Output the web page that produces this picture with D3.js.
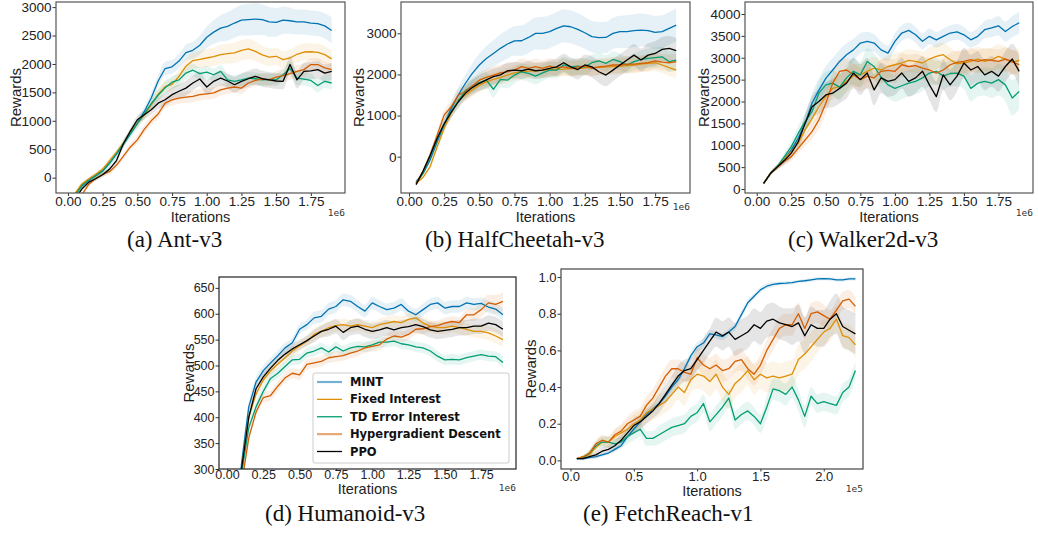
<!DOCTYPE html>
<html>
<head>
<meta charset="utf-8">
<script src="https://cdn.jsdelivr.net/npm/d3@7"></script>
<style>
  body { margin: 0; background: #fff; }
  svg { display: block; }
</style>
</head>
<body>
<svg id="fig" width="1038" height="541"></svg>
<script>
// methods and their colours (seaborn colorblind)
const methods = ['MINT', 'Fixed Interest', 'TD Error Interest', 'Hypergradient Descent', 'PPO'];
const colors = ['#0173B2', '#DE8F05', '#029E73', '#D55E00', '#000000'];

// iteration grids (x values of the logged points)
const itersMujoco = [0.05,0.10,0.15,0.20,0.25,0.30,0.35,0.40,0.45,0.50,0.55,0.60,0.65,0.70,0.75,0.80,0.85,0.90,0.95,1.00,
  1.05,1.10,1.15,1.20,1.25,1.30,1.35,1.40,1.45,1.50,1.55,1.60,1.65,1.70,1.75,1.80,1.85,1.90];
const itersFetch = [0.05,0.10,0.15,0.20,0.25,0.30,0.35,0.40,0.45,0.50,0.55,0.60,0.65,0.70,0.75,0.80,0.85,0.90,0.95,1.00,
  1.05,1.10,1.15,1.20,1.25,1.30,1.35,1.40,1.45,1.50,1.55,1.60,1.65,1.70,1.75,1.80,1.85,1.90,1.95,2.00,2.05,2.10,2.15,2.20,2.25];

// tick values
const ticksMujocoX = [0, 0.25, 0.5, 0.75, 1.0, 1.25, 1.5, 1.75];
const ticksFetchX = [0, 0.5, 1.0, 1.5, 2.0];
const ticksAntY = [0, 500, 1000, 1500, 2000, 2500, 3000];
const ticksCheetahY = [0, 1000, 2000, 3000];
const ticksWalkerY = [0, 500, 1000, 1500, 2000, 2500, 3000, 3500, 4000];
const ticksHumanoidY = [300, 350, 400, 450, 500, 550, 600, 650];
const ticksFetchY = [0, 0.2, 0.4, 0.6, 0.8, 1.0];

// ---- (a) Ant-v3 ----
const antMint = [-300,-130,-40,40,130,260,420,590,770,960,1160,1400,1700,1920,1950,2050,2200,2240,2330,2470,2560,2630,2660,2720,2770,2780,2790,2780,2740,2730,2770,2760,2740,2740,2720,2710,2670,2590];
const antFixed = [-280,-110,-20,60,150,300,450,610,790,960,1100,1280,1470,1600,1640,1780,1960,2060,2080,2105,2130,2165,2180,2195,2240,2265,2220,2160,2120,2135,2075,2105,2170,2210,2215,2205,2165,2090];
const antTd = [-320,-150,-50,30,110,250,420,600,780,950,1120,1300,1450,1580,1680,1720,1840,1890,1830,1855,1810,1870,1720,1695,1720,1750,1740,1720,1730,1720,1810,1920,1750,1735,1710,1620,1695,1665];
const antHyper = [-420,-300,-120,-10,60,105,220,380,540,665,850,1000,1120,1310,1370,1400,1415,1430,1460,1475,1490,1545,1575,1595,1575,1665,1710,1735,1720,1770,1795,1830,1870,1900,1990,1990,1930,1900];
const antPpo = [-380,-200,-80,-20,50,150,300,600,820,1018,1105,1195,1310,1370,1460,1520,1575,1665,1735,1595,1695,1750,1700,1635,1695,1740,1780,1740,1720,1700,1695,1990,1720,1870,1880,1900,1840,1870];
const antMintSd = [30,30,30,40,40,50,60,60,70,80,90,100,110,120,120,130,140,150,170,190,210,230,250,260,270,280,280,270,260,250,240,230,220,220,220,220,220,230];
const antFixedSd = [30,30,30,40,40,50,50,60,60,70,80,90,100,110,110,120,130,140,150,160,160,170,170,180,180,180,170,160,150,150,150,150,150,150,150,150,150,150];
const antTdSd = [30,30,30,40,40,50,50,60,60,70,80,90,100,110,110,110,110,110,110,110,110,110,110,110,110,110,110,110,110,110,110,120,120,120,120,120,120,120];
const antHyperSd = [30,30,30,40,40,50,50,60,60,70,80,80,90,90,100,100,100,100,100,100,100,100,100,100,100,100,100,100,100,110,110,110,110,110,110,110,110,110];
const antPpoSd = [30,30,30,40,40,50,50,60,60,70,80,90,100,110,120,120,130,130,130,130,130,130,130,140,140,140,140,140,140,140,140,150,150,150,150,150,150,150];

// ---- (b) HalfCheetah-v3 ----
const cheetahMint = [-608,-405,-80,365,770,1175,1500,1780,2025,2230,2390,2510,2635,2740,2815,2820,2900,3000,3000,3040,3120,3180,3160,3095,3015,2920,2895,2900,3000,3040,3040,3065,3080,3065,3025,3040,3120,3200];
const cheetahFixed = [-650,-500,-240,240,690,1055,1380,1500,1620,1740,1820,1880,1930,1985,2040,2065,2080,2090,2105,2120,2125,2130,2140,2145,2160,2170,2175,2185,2190,2200,2215,2230,2250,2270,2285,2230,2165,2105];
const cheetahTd = [-650,-400,0,420,800,1100,1350,1600,1720,1800,1860,1640,1880,1860,1985,2065,2025,1960,2040,2105,2105,2230,2185,2200,2185,2285,2330,2270,2365,2310,2230,2310,2365,2390,2410,2430,2310,2350];
const cheetahHyper = [-650,-350,50,525,1015,1215,1500,1580,1720,1860,1930,1985,2040,2065,2105,2190,2145,2190,2145,2200,2160,2185,2145,2185,2200,2145,2185,2200,2230,2230,2250,2250,2270,2285,2330,2300,2285,2310];
const cheetahPpo = [-680,-350,30,450,800,1080,1330,1540,1680,1785,1870,1945,1990,2090,2105,2090,2130,2090,2105,2145,2185,2285,2185,2120,2230,2185,2065,1985,2105,2230,2350,2470,2350,2470,2510,2610,2635,2580];
const cheetahMintSd = [40,50,70,100,130,160,190,220,250,280,300,320,340,350,360,370,380,390,400,400,400,400,400,400,390,380,380,380,380,390,400,400,400,400,400,400,400,400];
const cheetahFixedSd = [40,50,70,100,120,130,140,150,160,170,180,180,180,180,180,180,180,180,180,180,180,180,180,180,180,180,180,190,190,190,190,200,200,200,200,200,200,200];
const cheetahTdSd = [40,50,70,100,120,140,160,170,180,190,200,200,200,200,200,200,200,200,200,200,200,200,200,200,200,200,200,200,200,200,200,200,220,240,250,250,250,250];
const cheetahHyperSd = [40,50,70,100,120,140,160,170,180,190,200,200,200,200,200,200,200,200,200,200,200,200,200,200,200,200,200,200,200,200,200,200,200,200,200,200,200,200];
const cheetahPpoSd = [40,50,70,100,120,140,160,170,180,190,200,200,200,200,200,200,200,200,200,200,210,220,230,240,250,260,270,270,270,270,270,270,280,290,300,300,300,300];

// ---- (c) Walker2d-v3 ----
const walkerMint = [130,360,510,680,890,1160,1500,1960,2260,2530,2720,2915,3070,3180,3335,3375,3335,3180,3105,3375,3565,3625,3525,3375,3490,3410,3490,3565,3590,3525,3410,3490,3640,3680,3730,3600,3715,3800];
const walkerFixed = [130,360,510,700,855,1045,1350,1610,1880,2110,2300,2340,2460,2590,2610,2690,2765,2720,2800,2840,2880,2940,2915,2880,2970,3030,3070,2955,2865,2880,2915,2970,2915,2955,3030,2970,2895,2940];
const walkerTd = [130,360,510,740,970,1270,1540,1770,2190,2380,2420,2330,2540,2690,2610,2915,2800,2560,2380,2300,2360,2420,2460,2540,2650,2690,2580,2640,2650,2580,2300,2420,2460,2420,2500,2380,2080,2230];
const walkerHyper = [130,350,500,630,740,930,1120,1310,1580,1960,2420,2690,2720,2610,2500,2580,2540,2690,2710,2690,2840,2800,2820,2765,2720,2650,2720,2840,2895,2915,2955,2915,2955,2940,2915,2970,2915,2840];
const walkerPpo = [130,360,510,650,820,1080,1500,1880,2000,2150,2190,2300,2420,2650,2500,2650,2265,2540,2460,2500,2650,2460,2540,2690,2380,2110,2610,2380,2580,2880,2720,2800,2610,2690,2580,2800,2970,2690];
const walkerMintSd = [30,40,60,80,100,130,170,220,260,280,280,270,260,250,230,220,200,190,180,180,180,180,180,180,180,180,180,180,180,180,180,190,200,210,220,230,240,250];
const walkerFixedSd = [30,40,60,80,100,130,160,190,220,240,250,260,260,260,260,260,260,260,260,260,260,260,260,260,270,280,280,280,280,280,280,280,280,280,280,280,280,280];
const walkerTdSd = [30,40,60,90,130,170,210,250,280,300,300,300,300,300,300,300,300,300,300,300,300,300,300,300,300,300,300,300,300,300,300,300,320,340,360,380,400,400];
const walkerHyperSd = [30,40,60,80,100,120,140,160,200,240,260,270,270,270,270,270,270,270,270,270,270,270,270,270,270,270,270,270,270,270,270,270,270,270,270,270,270,270];
const walkerPpoSd = [30,40,60,90,130,170,210,250,280,300,320,340,350,350,350,350,350,350,350,350,350,350,350,350,350,350,350,350,350,350,350,350,350,350,350,350,350,350];

// ---- (d) Humanoid-v3 ----
const humanoidMint = [150,310,420,468,490,505,519,534,544,570,579,592,595,609,614,627,624,614,605,621,614,608,611,618,605,598,608,618,621,611,614,614,621,618,620,613,609,598];
const humanoidFixed = [150,300,400,445,472,490,503,515,528,538,547,560,566,573,577,579,576,579,576,573,579,582,585,583,589,592,582,576,573,573,576,573,570,566,566,563,557,550];
const humanoidTd = [150,290,380,420,450,475,485,498,511,512,524,528,534,526,536,528,534,537,536,540,545,545,547,542,540,536,534,528,518,511,512,511,515,518,521,518,517,506];
const humanoidHyper = [140,270,360,410,438,442,460,476,485,482,502,505,508,515,517,519,524,528,534,537,540,551,557,555,560,570,571,575,577,582,585,583,598,598,608,621,618,624];
const humanoidPpo = [150,300,400,455,478,495,510,522,532,540,548,557,566,570,576,564,573,576,570,566,569,573,569,573,575,579,575,569,566,568,570,573,573,576,576,582,579,570];
const humanoidMintSd = [10,10,10,10,10,10,10,10,10,10,10,12,12,12,12,12,12,12,12,12,12,12,12,12,12,12,12,12,12,12,12,12,12,12,12,12,12,12];
const humanoidFixedSd = [8,8,10,10,10,10,10,10,10,10,10,12,12,12,12,12,12,12,12,12,12,12,12,12,12,12,12,12,12,12,12,12,12,12,14,14,14,14];
const humanoidTdSd = [8,8,10,10,10,10,10,10,10,10,10,10,10,10,10,10,10,10,10,10,10,10,10,10,10,10,10,10,10,10,10,10,10,10,10,10,10,12];
const humanoidHyperSd = [8,8,10,10,10,10,10,10,10,10,10,10,10,10,10,10,10,10,10,10,10,10,10,10,10,10,10,10,10,10,10,10,12,12,14,16,18,18];
const humanoidPpoSd = [8,8,10,10,10,10,10,10,10,10,10,12,12,14,14,15,15,15,15,15,15,15,15,15,15,15,15,15,15,15,15,15,15,15,15,15,15,15];

// ---- (e) FetchReach-v1 ----
const fetchMint = [0.01,0.01,0.015,0.02,0.03,0.04,0.06,0.08,0.13,0.17,0.21,0.25,0.28,0.31,0.35,0.40,0.44,0.50,0.57,0.62,0.64,0.69,0.685,0.675,0.70,0.73,0.795,0.86,0.895,0.93,0.95,0.96,0.965,0.967,0.97,0.976,0.98,0.985,0.99,0.991,0.99,0.985,0.985,0.99,0.99];
const fetchFixed = [0.01,0.02,0.03,0.07,0.10,0.10,0.13,0.15,0.17,0.20,0.22,0.26,0.28,0.30,0.32,0.36,0.40,0.37,0.44,0.47,0.46,0.43,0.47,0.40,0.36,0.42,0.45,0.49,0.44,0.47,0.45,0.46,0.45,0.46,0.47,0.55,0.58,0.62,0.66,0.70,0.72,0.77,0.68,0.67,0.63];
const fetchTd = [0.01,0.015,0.04,0.08,0.10,0.10,0.09,0.10,0.13,0.15,0.17,0.12,0.12,0.14,0.16,0.18,0.19,0.20,0.24,0.26,0.31,0.21,0.25,0.29,0.34,0.22,0.25,0.27,0.24,0.20,0.29,0.39,0.38,0.36,0.40,0.33,0.24,0.35,0.31,0.32,0.31,0.30,0.37,0.40,0.49];
const fetchHyper = [0.01,0.02,0.04,0.09,0.11,0.10,0.14,0.16,0.20,0.22,0.24,0.30,0.34,0.40,0.46,0.50,0.50,0.48,0.47,0.56,0.52,0.50,0.52,0.49,0.50,0.54,0.55,0.50,0.47,0.52,0.60,0.66,0.72,0.74,0.74,0.80,0.72,0.80,0.81,0.79,0.77,0.82,0.87,0.88,0.84];
const fetchPpo = [0.01,0.01,0.02,0.03,0.05,0.06,0.08,0.11,0.15,0.19,0.21,0.24,0.27,0.31,0.36,0.41,0.46,0.49,0.50,0.55,0.60,0.65,0.70,0.68,0.70,0.66,0.68,0.70,0.74,0.72,0.76,0.77,0.75,0.74,0.73,0.75,0.68,0.74,0.72,0.72,0.77,0.80,0.73,0.71,0.69];
const fetchMintSd = [0.005,0.005,0.005,0.008,0.01,0.01,0.012,0.015,0.015,0.02,0.02,0.02,0.02,0.02,0.02,0.02,0.02,0.02,0.025,0.025,0.025,0.02,0.02,0.02,0.02,0.02,0.02,0.02,0.015,0.015,0.015,0.015,0.01,0.01,0.01,0.01,0.01,0.01,0.01,0.01,0.01,0.01,0.01,0.01,0.01];
const fetchFixedSd = [0.005,0.01,0.02,0.03,0.03,0.03,0.04,0.04,0.05,0.05,0.05,0.06,0.06,0.06,0.06,0.07,0.07,0.07,0.07,0.08,0.08,0.08,0.08,0.08,0.08,0.08,0.08,0.08,0.08,0.08,0.08,0.08,0.08,0.08,0.08,0.08,0.08,0.08,0.07,0.07,0.07,0.07,0.07,0.07,0.07];
const fetchTdSd = [0.005,0.01,0.02,0.02,0.03,0.03,0.03,0.03,0.04,0.04,0.04,0.04,0.04,0.05,0.05,0.05,0.05,0.05,0.05,0.05,0.05,0.05,0.05,0.05,0.05,0.05,0.05,0.05,0.05,0.05,0.06,0.06,0.06,0.06,0.06,0.06,0.06,0.05,0.05,0.05,0.05,0.05,0.05,0.05,0.05];
const fetchHyperSd = [0.005,0.01,0.02,0.02,0.03,0.03,0.03,0.04,0.04,0.05,0.05,0.05,0.05,0.05,0.05,0.05,0.05,0.05,0.05,0.06,0.06,0.06,0.06,0.06,0.06,0.06,0.06,0.06,0.06,0.06,0.06,0.06,0.06,0.06,0.06,0.06,0.06,0.06,0.06,0.06,0.05,0.05,0.05,0.05,0.05];
const fetchPpoSd = [0.005,0.01,0.01,0.02,0.02,0.02,0.03,0.03,0.03,0.04,0.04,0.04,0.04,0.05,0.05,0.05,0.06,0.06,0.06,0.06,0.07,0.07,0.08,0.08,0.08,0.09,0.09,0.09,0.09,0.09,0.09,0.09,0.09,0.09,0.10,0.10,0.10,0.10,0.10,0.10,0.10,0.11,0.11,0.11,0.11];

// panel layout: box = [left, top, right, bottom] of the axes frame
const panels = [
  { caption: '(a) Ant-v3', capX: 127, capY: 247, box: [56, 2, 345, 193],
    xDom: [-0.086, 1.996], yDom: [-270, 3090], xTicks: ticksMujocoX, yTicks: ticksAntY,
    xFmt: '.2f', yFmt: 'd', offsetText: '1e6', offY: 216, yLabX: 15, xLabY: 222, xTickY: 3, tickFont: 13.5,
    frame: '#555', iters: itersMujoco,
    means: [antMint, antFixed, antTd, antHyper, antPpo],
    sds: [antMintSd, antFixedSd, antTdSd, antHyperSd, antPpoSd] },
  { caption: '(b) HalfCheetah-v3', capX: 425, capY: 247, box: [401, 2, 690, 193],
    xDom: [-0.057, 1.998], yDom: [-883, 3762], xTicks: ticksMujocoX, yTicks: ticksCheetahY,
    xFmt: '.2f', yFmt: 'd', offsetText: '1e6', offY: 210, yLabX: 358, xLabY: 222, xTickY: 3.5, tickFont: 13.5,
    frame: '#555', iters: itersMujoco,
    means: [cheetahMint, cheetahFixed, cheetahTd, cheetahHyper, cheetahPpo],
    sds: [cheetahMintSd, cheetahFixedSd, cheetahTdSd, cheetahHyperSd, cheetahPpoSd] },
  { caption: '(c) Walker2d-v3', capX: 788, capY: 247, box: [745, 2, 1033, 193],
    xDom: [-0.085, 2.0], yDom: [-91, 4274], xTicks: ticksMujocoX, yTicks: ticksWalkerY,
    xFmt: '.2f', yFmt: 'd', offsetText: '1e6', offY: 216, yLabX: 703, xLabY: 222, xTickY: 3, tickFont: 13.5,
    frame: '#555', iters: itersMujoco,
    means: [walkerMint, walkerFixed, walkerTd, walkerHyper, walkerPpo],
    sds: [walkerMintSd, walkerFixedSd, walkerTdSd, walkerHyperSd, walkerPpoSd] },
  { caption: '(d) Humanoid-v3', capX: 265, capY: 521, box: [219, 277, 516, 469],
    xDom: [-0.055, 1.99], yDom: [300, 671], xTicks: ticksMujocoX, yTicks: ticksHumanoidY,
    xFmt: '.2f', yFmt: 'd', offsetText: '1e6', offY: 491, yLabX: 188, xLabY: 494, xTickY: 1.5, tickFont: 12.5,
    frame: '#222', iters: itersMujoco, legend: true,
    means: [humanoidMint, humanoidFixed, humanoidTd, humanoidHyper, humanoidPpo],
    sds: [humanoidMintSd, humanoidFixedSd, humanoidTdSd, humanoidHyperSd, humanoidPpoSd] },
  { caption: '(e) FetchReach-v1', capX: 583, capY: 521, box: [561, 269, 863, 469],
    xDom: [-0.075, 2.31], yDom: [-0.047, 1.044], xTicks: ticksFetchX, yTicks: ticksFetchY,
    xFmt: '.1f', yFmt: '.1f', offsetText: '1e5', offY: 492, yLabX: 530, xLabY: 496, xTickY: 2.5, tickFont: 13,
    frame: '#444', iters: itersFetch,
    means: [fetchMint, fetchFixed, fetchTd, fetchHyper, fetchPpo],
    sds: [fetchMintSd, fetchFixedSd, fetchTdSd, fetchHyperSd, fetchPpoSd] }
];

const svg = d3.select('#fig');
svg.append('rect').attr('width', 1038).attr('height', 541).attr('fill', '#fff');
const defs = svg.append('defs');
const sans = 'Liberation Sans, Arial, sans-serif';

panels.forEach((p, idx) => {
  const [x0, y0, x1, y1] = p.box;
  const x = d3.scaleLinear().domain(p.xDom).range([x0, x1]);
  const y = d3.scaleLinear().domain(p.yDom).range([y1, y0]);
  const g = svg.append('g');

  defs.append('clipPath').attr('id', 'clip' + idx)
    .append('rect').attr('x', x0).attr('y', y0).attr('width', x1 - x0).attr('height', y1 - y0);
  const plot = g.append('g').attr('clip-path', `url(#clip${idx})`);

  // std bands
  p.means.forEach((m, k) => {
    const sd = p.sds[k];
    const pts = p.iters.map((it, i) => ({ it, lo: m[i] - sd[i], hi: m[i] + sd[i] }));
    plot.append('path').datum(pts)
      .attr('d', d3.area().x(d => x(d.it)).y0(d => y(d.lo)).y1(d => y(d.hi)).curve(d3.curveMonotoneX))
      .attr('fill', colors[k]).attr('fill-opacity', 0.1);
  });
  // mean lines
  p.means.forEach((m, k) => {
    plot.append('path').datum(m)
      .attr('d', d3.line().x((d, i) => x(p.iters[i])).y(d => y(d)))
      .attr('fill', 'none').attr('stroke', colors[k]).attr('stroke-width', 1.3)
      .attr('stroke-linejoin', 'round');
  });

  // axes
  const xAxis = d3.axisBottom(x).tickValues(p.xTicks).tickFormat(d3.format(p.xFmt))
    .tickSizeOuter(0).tickSize(p.xTickY).tickPadding(0);
  const gx = g.append('g').attr('transform', `translate(0,${y1})`).call(xAxis);
  const yAxis = d3.axisLeft(y).tickValues(p.yTicks).tickFormat(d3.format(p.yFmt))
    .tickSizeOuter(0).tickSize(3.5).tickPadding(1);
  const gy = g.append('g').attr('transform', `translate(${x0},0)`).call(yAxis);
  [gx, gy].forEach(a => {
    a.select('.domain').remove();
    a.selectAll('line').attr('stroke', '#333');
    a.selectAll('text').attr('font-family', sans).attr('font-size', p.tickFont).attr('fill', '#222');
  });

  // frame
  g.append('rect').attr('x', x0).attr('y', y0).attr('width', x1 - x0).attr('height', y1 - y0)
    .attr('fill', 'none').attr('stroke', p.frame).attr('stroke-width', 1.2);

  // axis labels
  g.append('text').attr('x', (x0 + x1) / 2).attr('y', p.xLabY).attr('text-anchor', 'middle')
    .attr('font-family', sans).attr('font-size', 14.5).attr('fill', '#222').text('Iterations');
  g.append('text').attr('transform', `translate(${p.yLabX},${(y0 + y1) / 2}) rotate(-90)`)
    .attr('text-anchor', 'middle').attr('dominant-baseline', 'central')
    .attr('font-family', sans).attr('font-size', 15).attr('fill', '#222').text('Rewards');
  g.append('text').attr('x', x1).attr('y', p.offY).attr('text-anchor', 'end')
    .attr('font-family', 'DejaVu Sans Mono, monospace').attr('font-size', 9.5).attr('fill', '#333')
    .text(p.offsetText);

  // caption
  svg.append('text').attr('x', p.capX).attr('y', p.capY)
    .attr('font-family', 'Liberation Serif, Times New Roman, serif').attr('font-size', 23)
    .attr('fill', '#111').text(p.caption);

  if (p.legend) {
    const lg = g.append('g');
    const lx = 313, ly = 373, lw = 196, lh = 90;
    lg.append('rect').attr('x', lx).attr('y', ly).attr('width', lw).attr('height', lh)
      .attr('rx', 2).attr('fill', '#fff').attr('fill-opacity', 0.85).attr('stroke', '#ccc');
    const rowY = d3.scaleLinear().domain([0, 4]).range([382, 451.5]);
    methods.forEach((name, k) => {
      const wide = (k === 0 || k === 3);
      lg.append('line').attr('x1', 317).attr('x2', 342).attr('y1', rowY(k)).attr('y2', rowY(k))
        .attr('stroke', colors[k]).attr('stroke-width', wide ? 2.2 : 1.3)
        .attr('stroke-opacity', wide ? 0.55 : 1);
      lg.append('text').attr('x', 350).attr('y', rowY(k)).attr('dy', '0.35em')
        .attr('font-family', 'DejaVu Sans, sans-serif').attr('font-weight', 'bold')
        .attr('font-size', 11.5).attr('fill', '#111').text(name);
    });
  }
});
</script>
</body>
</html>
